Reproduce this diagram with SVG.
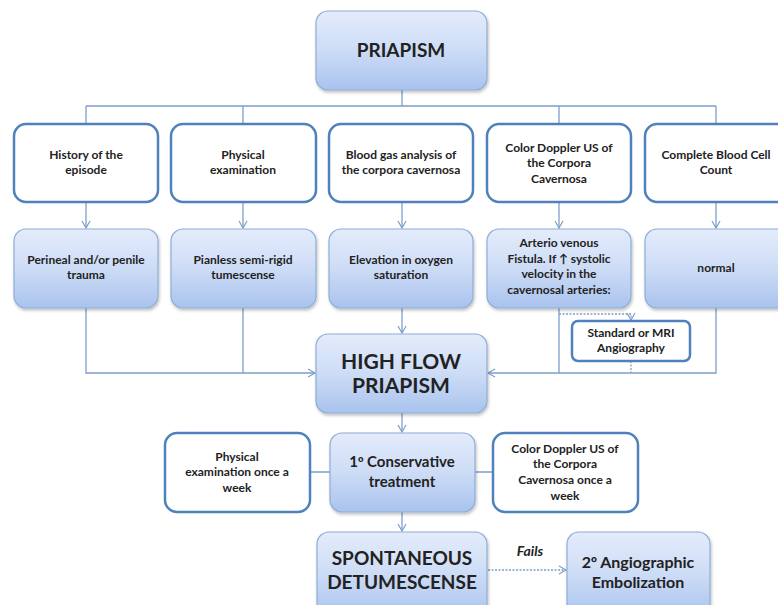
<svg xmlns="http://www.w3.org/2000/svg" width="778" height="605" viewBox="0 0 778 605">
<defs>
<linearGradient id="bg" x1="0" y1="0" x2="0" y2="1">
<stop offset="0" stop-color="#e4ecfb"/>
<stop offset="0.5" stop-color="#cddcf6"/>
<stop offset="1" stop-color="#a9c3ee"/>
</linearGradient>
<filter id="sh" x="-10%" y="-10%" width="120%" height="130%">
<feDropShadow dx="1" dy="2" stdDeviation="1.5" flood-color="#000" flood-opacity="0.25"/>
</filter>
<marker id="ar" markerWidth="10" markerHeight="10" refX="8" refY="5" orient="auto" markerUnits="userSpaceOnUse">
<path d="M1,1 L8,5 L1,9" fill="none" stroke="#7d9fc9" stroke-width="1.2"/>
</marker>
</defs>
<style>
.blue{fill:url(#bg);stroke:#8eaed6;stroke-width:1.2;filter:url(#sh)}
.white{fill:#fff;stroke:#4f81bd;stroke-width:2.5}
.c{fill:none;stroke:#7d9fc9;stroke-width:1.3}
.d{fill:none;stroke:#7d9fc9;stroke-width:1.3;stroke-dasharray:2 1.5}
text{font-family:Lato,"Liberation Sans",sans-serif;font-weight:bold;fill:#222;text-anchor:middle}
.s{font-size:12px}
.o{font-family:"Liberation Sans",sans-serif}
</style>
<rect width="778" height="605" fill="#fff"/>
<g id="connectors">
<path class="c" d="M402,90 V106 M86,106 H716 M86,106 V124 M243,106 V124 M559,106 V124 M716,106 V124"/>
<path class="c" d="M86,202 V228" marker-end="url(#ar)"/>
<path class="c" d="M243,202 V228" marker-end="url(#ar)"/>
<path class="c" d="M402,202 V228" marker-end="url(#ar)"/>
<path class="c" d="M559,202 V228" marker-end="url(#ar)"/>
<path class="c" d="M716,202 V228" marker-end="url(#ar)"/>
<path class="c" d="M243,308 V373 M86,308 V373 H315" marker-end="url(#ar)"/>
<path class="c" d="M559,308 V373 M716,308 V373 H488" marker-end="url(#ar)"/>
<path class="c" d="M402,308 V333" marker-end="url(#ar)"/>
<path class="d" d="M559,314 H631 V320" marker-end="url(#ar)"/>
<path class="d" d="M631,361 V373"/>
<path class="c" d="M402,413 V432" marker-end="url(#ar)"/>
<path class="c" d="M310,472 H330 M475,472 H493"/>
<path class="c" d="M402,512 V531" marker-end="url(#ar)"/>
<path class="d" d="M488,570 H566" marker-end="url(#ar)"/>
</g>
<g id="priapism"><rect class="blue" x="316" y="11" width="171" height="79" rx="12"/><text x="401" y="57" font-size="19">PRIAPISM</text></g>
<g id="history"><rect class="white" x="14" y="124" width="144" height="78" rx="12"/><text class="s" x="86" y="159">History of the</text><text class="s" x="86" y="174">episode</text></g>
<g id="physical"><rect class="white" x="171" y="124" width="145" height="78" rx="12"/><text class="s" x="243" y="159">Physical</text><text class="s" x="243" y="174">examination</text></g>
<g id="bloodgas"><rect class="white" x="329" y="124" width="144" height="78" rx="12"/><text class="s" x="401" y="159">Blood gas analysis of</text><text class="s" x="401" y="174">the corpora cavernosa</text></g>
<g id="doppler"><rect class="white" x="487" y="124" width="144" height="78" rx="12"/><text class="s" x="559" y="152">Color Doppler US of</text><text class="s" x="559" y="167">the Corpora</text><text class="s" x="559" y="183">Cavernosa</text></g>
<g id="cbc"><rect class="white" x="645" y="124" width="144" height="78" rx="12"/><text class="s" x="716" y="159">Complete Blood Cell</text><text class="s" x="716" y="174">Count</text></g>
<g id="trauma"><rect class="blue" x="14" y="229" width="144" height="79" rx="12"/><text class="s" x="86" y="264">Perineal and/or penile</text><text class="s" x="86" y="279">trauma</text></g>
<g id="tumescense"><rect class="blue" x="171" y="229" width="145" height="79" rx="12"/><text class="s" x="243" y="264">Pianless semi-rigid</text><text class="s" x="243" y="279">tumescense</text></g>
<g id="oxygen"><rect class="blue" x="329" y="229" width="144" height="79" rx="12"/><text class="s" x="401" y="264">Elevation in oxygen</text><text class="s" x="401" y="279">saturation</text></g>
<g id="fistula"><rect class="blue" x="487" y="229" width="144" height="79" rx="12"/><text class="s" x="559" y="247">Arterio venous</text><text class="s" x="559" y="263">Fistula.  If ↑ systolic</text><text class="s" x="559" y="278">velocity in the</text><text class="s" x="559" y="294">cavernosal arteries:</text></g>
<g id="normal"><rect class="blue" x="645" y="229" width="144" height="79" rx="12"/><text class="s" x="716" y="272">normal</text></g>
<g id="angiography"><rect class="white" x="572" y="321" width="118" height="40" rx="6"/><text class="s" x="631" y="337">Standard or MRI</text><text class="s" x="631" y="352">Angiography</text></g>
<g id="highflow"><rect class="blue" x="316" y="334" width="171" height="79" rx="12"/><text x="401" y="369" font-size="21">HIGH FLOW</text><text x="401" y="393" font-size="21">PRIAPISM</text></g>
<g id="physweek"><rect class="white" x="165" y="433" width="145" height="79" rx="12"/><text class="s" x="237" y="461">Physical</text><text class="s" x="237" y="476">examination once a</text><text class="s" x="237" y="492">week</text></g>
<g id="conservative"><rect class="blue" x="330" y="433" width="145" height="79" rx="12"/><text x="402" y="467" font-size="15">1<tspan class="o">º</tspan> Conservative</text><text x="402" y="487" font-size="15">treatment</text></g>
<g id="dopplerweek"><rect class="white" x="493" y="433" width="145" height="79" rx="12"/><text class="s" x="565" y="453">Color Doppler US of</text><text class="s" x="565" y="468">the Corpora</text><text class="s" x="565" y="484">Cavernosa once a</text><text class="s" x="565" y="500">week</text></g>
<g id="spontaneous"><rect class="blue" x="317" y="532" width="170" height="85" rx="12"/><text x="402" y="565" font-size="19">SPONTANEOUS</text><text x="402" y="589" font-size="19">DETUMESCENSE</text></g>
<g id="fails"><text x="530" y="556" font-size="14" font-style="italic">Fails</text></g>
<g id="embolization"><rect class="blue" x="567" y="532" width="143" height="85" rx="12"/><text x="638" y="568" font-size="16">2<tspan class="o">º</tspan> Angiographic</text><text x="638" y="588" font-size="16">Embolization</text></g>
</svg>
